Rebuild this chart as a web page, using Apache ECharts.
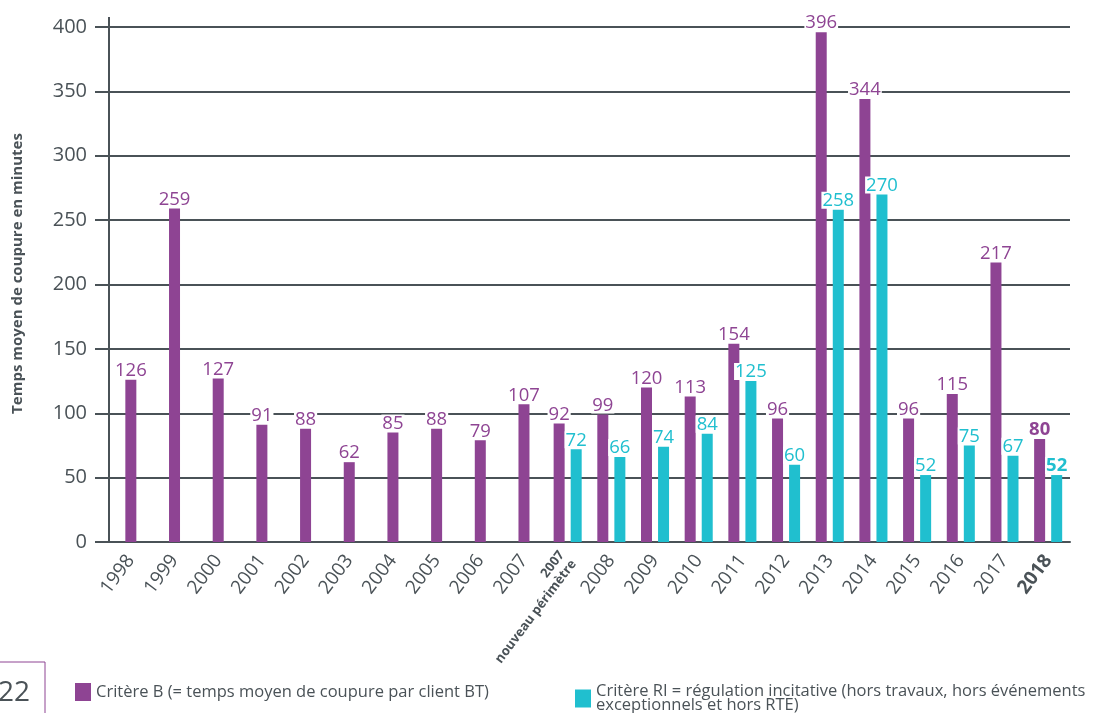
<!DOCTYPE html>
<html><head><meta charset="utf-8">
<script src="https://cdn.jsdelivr.net/npm/echarts@6/dist/echarts.min.js"></script>
<style>html,body{margin:0;padding:0;background:#fff}#c{width:1097px;height:713px}</style>
</head><body><div id="c"></div>
<script>
const categories = ['1998','1999','2000','2001','2002','2003','2004','2005','2006','2007','2007NP','2008','2009','2010','2011','2012','2013','2014','2015','2016','2017','2018'];
const critereB = [126,259,127,91,88,62,85,88,79,107,92,99,120,113,154,96,396,344,96,115,217,80];
const critereRI = [null,null,null,null,null,null,null,null,null,null,72,66,74,84,125,60,258,270,52,75,67,52];
const yTicks = [0,50,100,150,200,250,300,350,400];
const nameB = 'Critère B (= temps moyen de coupure par client BT)';
const nameRI = 'Critère RI = régulation incitative (hors travaux, hors événements\nexceptionnels et hors RTE)';

const PURPLE = '#8e4493', CYAN = '#20bfcf', GREY = '#4a5257';
const FONT = '"Open Sans", "Noto Sans", sans-serif';
const lastIdx = categories.length - 1;

const singleB = critereB.map((v,i)=> critereRI[i]==null ? v : null);
const pairB = critereB.map((v,i)=> critereRI[i]==null ? null : v);
const mk = (arr)=> arr.map((v,i)=> v==null ? null : (i===lastIdx ? {value:v, label:{fontWeight:'bold'}} : v));

const lbl = (c)=>({show:true, position:'top', distance:1, color:c, fontSize:18.5, fontFamily:FONT,
  backgroundColor:'#fff', padding:[0,1,-1,1], lineHeight:18});

const chart = echarts.init(document.getElementById('c'));
const xBase = {type:'category', data:categories};
chart.setOption({
  animation:false,
  grid:{left:109, right:27, top:27, bottom:171},
  legend:[
    {data:[nameB], left:70, top:678, icon:'rect', itemWidth:16, itemHeight:18, itemGap:10,
     textStyle:{color:GREY, fontSize:16.5, fontFamily:FONT}, selectedMode:false},
    {data:[nameRI], left:570, top:678, icon:'rect', itemWidth:16, itemHeight:18,
     textStyle:{color:GREY, fontSize:16.5, fontFamily:FONT, lineHeight:14}, selectedMode:false}
  ],
  xAxis:[
    Object.assign({}, xBase, {
      axisLine:{lineStyle:{color:GREY, width:2}},
      axisTick:{length:7, lineStyle:{color:GREY, width:2}},
      axisLabel:{rotate:53, color:GREY, fontSize:19, fontFamily:FONT, margin:15, interval:0,
        formatter:(v,i)=> v==='2007NP' ? '{s|2007}\n{s|nouveau périmètre}' : (v==='2018' ? '{b|2018}' : v),
        rich:{s:{fontSize:13, fontWeight:'bold', color:GREY, fontFamily:FONT, lineHeight:15, align:'right'},
              b:{fontSize:19, fontWeight:'bold', color:GREY, fontFamily:FONT}}}
    }),
    Object.assign({}, xBase, {show:false})
  ],
  yAxis:{type:'value', min:0, max:400, interval:50,
    name:'Temps moyen de coupure en minutes', nameLocation:'middle', nameGap:84,
    nameTextStyle:{color:GREY, fontSize:15, fontWeight:'bold', fontFamily:FONT, padding:[0,0,0,22]},
    axisLine:{show:true, lineStyle:{color:GREY, width:2}},
    axisTick:{show:true, length:14, lineStyle:{color:GREY, width:2}},
    splitLine:{lineStyle:{color:GREY, width:2}},
    axisLabel:{color:GREY, fontSize:20, fontFamily:FONT, margin:22,
      formatter:(v)=> yTicks.includes(v) ? String(v) : ''}
  },
  series:[
    {name:nameB, type:'bar', xAxisIndex:1, data:mk(singleB), barWidth:11, itemStyle:{color:PURPLE}, label:lbl(PURPLE), z:3},
    {name:nameB, type:'bar', xAxisIndex:0, data:mk(pairB), barWidth:11, barGap:'55%', itemStyle:{color:PURPLE}, label:lbl(PURPLE), z:3},
    {name:nameRI, type:'bar', xAxisIndex:0, data:mk(critereRI), barWidth:11, barGap:'55%', itemStyle:{color:CYAN}, label:lbl(CYAN), z:3}
  ]
});
const pTop = chart.convertToPixel({xAxisIndex:0, yAxisIndex:0}, [0, 400]);
chart.setOption({graphic:[
  {type:'line', shape:{x1:109, y1:pTop[1]-10, x2:109, y2:pTop[1]}, style:{stroke:GREY, lineWidth:2}},
  {type:'rect', shape:{x:-5, y:662, width:50, height:60}, style:{fill:'#fff', stroke:PURPLE, lineWidth:1}},
  {type:'text', left:-2, top:679, style:{text:'22', fontSize:28, fill:GREY, fontFamily:FONT}}
]});
</script>
</body></html>
